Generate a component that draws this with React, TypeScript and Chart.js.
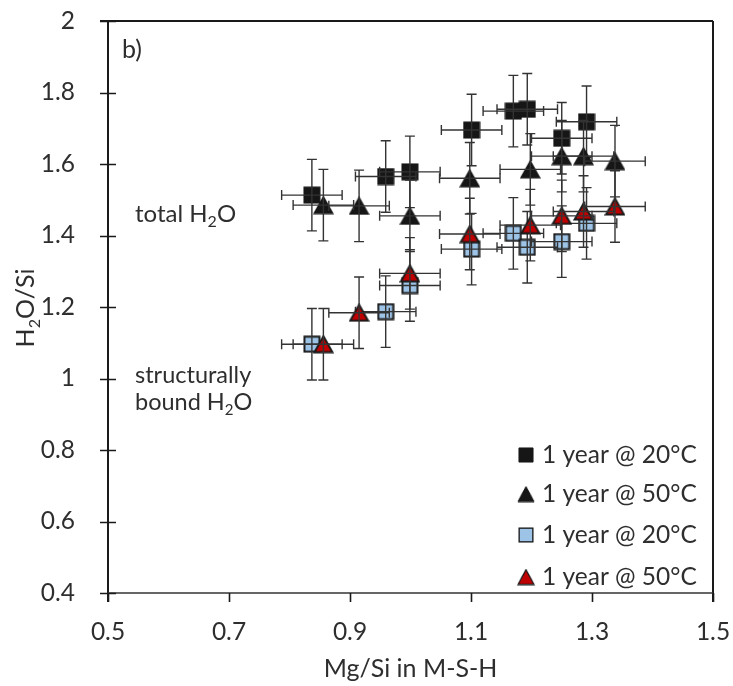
import React, { useEffect, useRef } from "react";
import { Chart, registerables } from "chart.js";

Chart.register(...registerables);

// ---- tick values ----
const xTicks = [0.5, 0.7, 0.9, 1.1, 1.3, 1.5];
const yTicks = [0.4, 0.6, 0.8, 1, 1.2, 1.4, 1.6, 1.8, 2];

// ---- legend labels ----
const seriesLabels = ["1 year @ 20°C", "1 year @ 50°C", "1 year @ 20°C", "1 year @ 50°C"];

// ---- total H2O, 1 year @ 20°C (black squares) ----
const total20X = [0.837, 0.959, 0.999, 1.101, 1.170, 1.193, 1.250, 1.291];
const total20Y = [1.513, 1.565, 1.578, 1.695, 1.748, 1.753, 1.672, 1.718];
// ---- total H2O, 1 year @ 50°C (black triangles) ----
const total50X = [0.856, 0.915, 0.999, 1.098, 1.198, 1.250, 1.286, 1.338];
const total50Y = [1.485, 1.483, 1.455, 1.560, 1.585, 1.622, 1.622, 1.608];
// ---- structurally bound H2O, 1 year @ 20°C (blue squares) ----
const bound20X = [0.837, 0.959, 0.999, 1.101, 1.170, 1.193, 1.250, 1.291];
const bound20Y = [1.096, 1.187, 1.260, 1.362, 1.406, 1.367, 1.383, 1.434];
// ---- structurally bound H2O, 1 year @ 50°C (red triangles) ----
const bound50X = [0.856, 0.915, 0.999, 1.098, 1.198, 1.250, 1.286, 1.338];
const bound50Y = [1.096, 1.184, 1.294, 1.404, 1.429, 1.455, 1.467, 1.481];

// ---- error bars (± values) ----
const total20XErr = [0.05, 0.05, 0.05, 0.05, 0.05, 0.05, 0.05, 0.05];
const total20YErr = [0.1, 0.1, 0.1, 0.1, 0.1, 0.1, 0.1, 0.1];
const total50XErr = [0.05, 0.05, 0.05, 0.05, 0.05, 0.05, 0.05, 0.05];
const total50YErr = [0.1, 0.1, 0.1, 0.1, 0.1, 0.1, 0.1, 0.1];
const bound20XErr = [0.05, 0.05, 0.05, 0.05, 0.05, 0.05, 0.05, 0.05];
const bound20YErr = [0.1, 0.1, 0.1, 0.1, 0.1, 0.1, 0.1, 0.1];
const bound50XErr = [0.05, 0.05, 0.05, 0.05, 0.05, 0.05, 0.05, 0.05];
const bound50YErr = [0.1, 0.1, 0.1, 0.1, 0.1, 0.1, 0.1, 0.1];

const FONT = "Lato, 'Open Sans', sans-serif";
const TEXT = "#2e2e2e";

function makeMarker(kind: string, fill: string, stroke: string, lw: number): HTMLCanvasElement {
  const c = document.createElement("canvas");
  const w = kind === "square" ? 18 : 21;
  const h = kind === "square" ? 18 : 19;
  c.width = w;
  c.height = h;
  const g = c.getContext("2d")!;
  g.fillStyle = fill;
  g.strokeStyle = stroke;
  g.lineWidth = lw;
  g.lineJoin = "miter";
  const p = lw / 2 + 0.5;
  g.beginPath();
  if (kind === "square") {
    g.rect(p, p, w - 2 * p, h - 2 * p);
  } else {
    g.moveTo(w / 2, p);
    g.lineTo(w - p, h - p);
    g.lineTo(p, h - p);
    g.closePath();
  }
  g.fill();
  g.stroke();
  return c;
}

function drawRich(ctx: CanvasRenderingContext2D, parts: [string, boolean][], x: number, y: number, size: number) {
  let cx = x;
  for (const [t, sub] of parts) {
    const s = sub ? Math.round(size * 0.65) : size;
    ctx.font = `${s}px ${FONT}`;
    ctx.fillText(t, cx, sub ? y + size * 0.22 : y);
    cx += ctx.measureText(t).width;
  }
}

function richWidth(ctx: CanvasRenderingContext2D, parts: [string, boolean][], size: number) {
  let w = 0;
  for (const [t, sub] of parts) {
    const s = sub ? Math.round(size * 0.65) : size;
    ctx.font = `${s}px ${FONT}`;
    w += ctx.measureText(t).width;
  }
  return w;
}

export default function App() {
  const ref = useRef<HTMLCanvasElement | null>(null);

  useEffect(() => {
    document.body.style.margin = "0";
    const canvas = ref.current;
    if (!canvas) return;

    const markers = [
      makeMarker("square", "#161616", "#161616", 1.5),
      makeMarker("triangle", "#161616", "#161616", 1.5),
      makeMarker("square", "#9dc3e6", "#1a1a1a", 2),
      makeMarker("triangle", "#c00000", "#1a1a1a", 2),
    ];
    const legendMarkers = [
      makeMarker("square", "#161616", "#161616", 1),
      makeMarker("triangle", "#161616", "#161616", 1),
      makeMarker("square", "#9dc3e6", "#1a1a1a", 1.5),
      makeMarker("triangle", "#c00000", "#1a1a1a", 1.5),
    ];
    const xs = [total20X, total50X, bound20X, bound50X];
    const ys = [total20Y, total50Y, bound20Y, bound50Y];
    const xe = [total20XErr, total50XErr, bound20XErr, bound50XErr];
    const ye = [total20YErr, total50YErr, bound20YErr, bound50YErr];

    const decor = {
      id: "decor",
      afterDatasetDraw(chart: any, args: any) {
        const i = args.index;
        const ctx = chart.ctx as CanvasRenderingContext2D;
        const sx = chart.scales.x;
        const sy = chart.scales.y;
        ctx.save();
        ctx.strokeStyle = "#333333";
        ctx.lineWidth = 1.4;
        const cap = 5;
        xs[i].forEach((xv: number, k: number) => {
          const yv = ys[i][k];
          const px = sx.getPixelForValue(xv);
          const py = sy.getPixelForValue(yv);
          const x1 = sx.getPixelForValue(xv - xe[i][k]);
          const x2 = sx.getPixelForValue(xv + xe[i][k]);
          const y1 = sy.getPixelForValue(yv + ye[i][k]);
          const y2 = sy.getPixelForValue(yv - ye[i][k]);
          ctx.beginPath();
          ctx.moveTo(x1, py); ctx.lineTo(x2, py);
          ctx.moveTo(x1, py - cap); ctx.lineTo(x1, py + cap);
          ctx.moveTo(x2, py - cap); ctx.lineTo(x2, py + cap);
          ctx.moveTo(px, y1); ctx.lineTo(px, y2);
          ctx.moveTo(px - cap, y1); ctx.lineTo(px + cap, y1);
          ctx.moveTo(px - cap, y2); ctx.lineTo(px + cap, y2);
          ctx.stroke();
        });
        ctx.restore();
      },
      afterDraw(chart: any) {
        const ctx = chart.ctx as CanvasRenderingContext2D;
        const { left, right, top, bottom } = chart.chartArea;
        const sx = chart.scales.x;
        const sy = chart.scales.y;
        ctx.save();
        // frame
        ctx.strokeStyle = "#1a1a1a";
        ctx.lineWidth = 2;
        ctx.beginPath();
        ctx.moveTo(left, top); ctx.lineTo(left, bottom + 9);
        ctx.moveTo(left - 8, top); ctx.lineTo(right, top);
        ctx.moveTo(right, top); ctx.lineTo(right, bottom + 9);
        ctx.stroke();
        ctx.strokeStyle = "#333333";
        ctx.lineWidth = 1.3;
        ctx.beginPath();
        ctx.moveTo(left, bottom); ctx.lineTo(right, bottom);
        ctx.stroke();
        // y ticks (cross) and x ticks (outside)
        ctx.strokeStyle = "#1a1a1a";
        ctx.lineWidth = 1.6;
        ctx.beginPath();
        yTicks.forEach((v) => {
          const p = Math.round(sy.getPixelForValue(v)) + 0.5;
          ctx.moveTo(left - 8, p); ctx.lineTo(left + 8, p);
        });
        xTicks.forEach((v) => {
          const p = Math.round(sx.getPixelForValue(v)) + 0.5;
          ctx.moveTo(p, bottom); ctx.lineTo(p, bottom + 9);
        });
        ctx.stroke();

        // text annotations
        ctx.fillStyle = TEXT;
        ctx.textAlign = "left";
        ctx.textBaseline = "alphabetic";
        ctx.font = `25px ${FONT}`;
        ctx.fillText("b)", 122, 58);
        drawRich(ctx, [["total H", false], ["2", true], ["O", false]], 135, 222, 24);
        ctx.font = `23.5px ${FONT}`;
        ctx.fillText("structurally", 135, 383);
        drawRich(ctx, [["bound H", false], ["2", true], ["O", false]], 135, 410, 23.5);

        // y-axis title (rotated)
        ctx.save();
        ctx.translate(26, 308);
        ctx.rotate(-Math.PI / 2);
        const tparts: [string, boolean][] = [["H", false], ["2", true], ["O/Si", false]];
        const tw = richWidth(ctx, tparts, 25);
        drawRich(ctx, tparts, -tw / 2, 8, 25);
        ctx.restore();

        // legend
        const baselines = [463, 502, 543, 585];
        seriesLabels.forEach((lab, i) => {
          const m = legendMarkers[i];
          const mw = i % 2 === 0 ? 16 : 18;
          const mh = i % 2 === 0 ? 16 : 17;
          ctx.drawImage(m, 526 - mw / 2, baselines[i] - 8 - mh / 2, mw, mh);
          ctx.font = `24.5px ${FONT}`;
          ctx.fillStyle = TEXT;
          ctx.fillText(lab, 542, baselines[i]);
        });
        ctx.restore();
      },
    };

    const datasets = xs.map((xv, i) => ({
      label: seriesLabels[i],
      data: xv.map((x, k) => ({ x, y: ys[i][k] })),
      pointStyle: markers[i],
      pointRadius: 9,
      showLine: false,
      order: 4 - i,
    }));

    const zeroPad = (s: any) => {
      s.paddingTop = 0;
      s.paddingBottom = 0;
      s.paddingLeft = 0;
      s.paddingRight = 0;
    };

    const chart = new Chart(canvas, {
      type: "scatter",
      data: { datasets },
      plugins: [decor],
      options: {
        responsive: false,
        devicePixelRatio: 1,
        animation: false,
        layout: { padding: { top: 21, right: 20, left: 0, bottom: 0 } },
        plugins: { legend: { display: false }, tooltip: { enabled: false } },
        scales: {
          x: {
            type: "linear",
            min: 0.5,
            max: 1.5,
            afterBuildTicks: (s: any) => { s.ticks = xTicks.map((v) => ({ value: v })); },
            afterFit: (s: any) => { s.height = 93; zeroPad(s); },
            grid: { display: false },
            border: { display: false },
            ticks: {
              padding: 16,
              color: TEXT,
              font: { family: FONT, size: 24.5 },
              callback: (v: any) => String(Number(Number(v).toFixed(1))),
            },
            title: {
              display: true,
              text: "Mg/Si in M-S-H",
              color: TEXT,
              font: { family: FONT, size: 25 },
              padding: { top: 0, bottom: 2 },
            },
          },
          y: {
            type: "linear",
            min: 0.4,
            max: 2,
            afterBuildTicks: (s: any) => { s.ticks = yTicks.map((v) => ({ value: v })); },
            afterFit: (s: any) => { s.width = 108; zeroPad(s); },
            grid: { display: false },
            border: { display: false },
            ticks: {
              padding: 25,
              color: TEXT,
              font: { family: FONT, size: 24.5 },
              callback: (v: any) => String(Number(Number(v).toFixed(1))),
            },
          },
        },
      },
    } as any);

    return () => chart.destroy();
  }, []);

  return (
    <div style={{ width: 733, height: 686 }}>
      <canvas ref={ref} width={733} height={686} style={{ display: "block" }} />
    </div>
  );
}
